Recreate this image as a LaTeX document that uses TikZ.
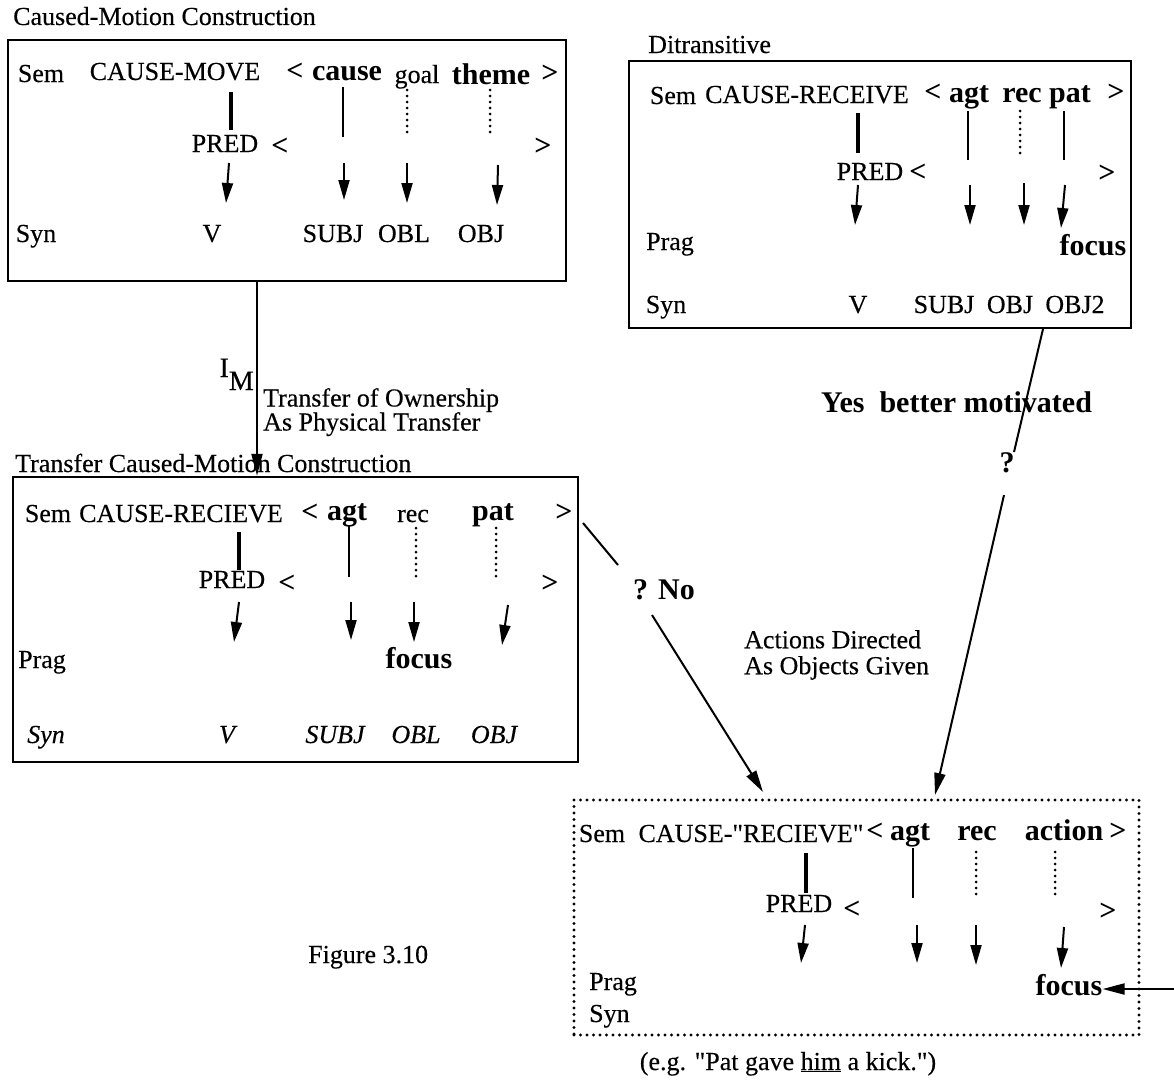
\documentclass[tikz,border=0pt]{standalone}
\usepackage{fontspec}
\setmainfont{Liberation Serif}[UprightFeatures={FakeBold=0.3}, ItalicFeatures={FakeBold=0.3}]
\usetikzlibrary{arrows.meta}
\newcommand\lbfont{\fontsize{26}{28}\selectfont}
\newcommand\rlfont{\fontsize{30}{32}\selectfont\bfseries}

\begin{document}
\begin{tikzpicture}[x=1pt, y=-1pt,
        lbl/.style={font=\lbfont, inner sep=0pt, anchor=base},
        rl/.style={font=\rlfont, inner sep=0pt, anchor=base},
        box/.style={draw, line width=2.5pt, inner sep=0pt},
        dotbox/.style={draw, line width=3.2pt, line cap=round, dash pattern=on 0pt off 6.5pt, inner sep=0pt},
        bar/.style={line width=4pt},
        link/.style={line width=2pt},
        dots/.style={line width=3pt, line cap=round, dash pattern=on 0pt off 6pt},
        arr/.style={line width=2pt, -{Triangle[length=20pt,width=11pt]}},
        conn/.style={line width=2pt, -{Triangle[length=22pt,width=11pt]}}]
        \useasboundingbox (0,0) rectangle (1174,1081);
        % Boxes
        \node[box, minimum width=558pt, minimum height=241pt] (cm) at (287,160.5) {};
        \node[box, minimum width=502pt, minimum height=267pt] (dt) at (880,194.5) {};
        \node[box, minimum width=565pt, minimum height=285pt] (tcm) at (295.5,619.5) {};
        \node[dotbox, minimum width=565pt, minimum height=235pt] (act) at (856.5,917.5) {};
        % Titles
        \node[lbl, anchor=base west] (cmtitle) at (13,25) {Caused-Motion Construction};
        \node[lbl, anchor=base west] (dttitle) at (648,53) {Ditransitive};
        \node[lbl, anchor=base west] (tcmtitle) at (15,472) {Transfer Caused-Motion Construction};

        % Caused-motion box
        \node[lbl] (cmsem) at (41,82) {Sem};
        \node[lbl] (cmpred) at (175,80) {CAUSE-MOVE};
        \node[rl] (cmlt) at (295,80) {<};
        \node[rl] (cmcause) at (347,80) {cause};
        \node[lbl] (cmgoal) at (417,83) {goal};
        \node[rl] (cmtheme) at (491,84) {theme};
        \node[rl] (cmgt) at (550,82) {>};
        \node[lbl] (cmPRED) at (225,152) {PRED};
        \node[rl] (cmlt2) at (280,155) {<};
        \node[rl] (cmgt2) at (543,155) {>};
        \foreach \t/\x [count=\i] in {Syn/36, V/212, SUBJ/333, OBL/404, OBJ/481}
            \node[lbl] (cmsyn\i) at (\x,242) {\t};
        \draw[bar] (231,92) -- (231,130);
        \draw[link] (343,87) -- (343,137);
        \foreach \x in {407,490} \draw[dots] (\x,90) -- (\x,135);
        \foreach \a/\b/\c/\d in {229/163/226/203, 344/163/344/200, 407/163/407/203, 498/165/497/205}
            \draw[arr] (\a,\b) -- (\c,\d);

        % Ditransitive box
        \node[lbl] (dtsem) at (673,104) {Sem};
        \node[lbl] (dtpred) at (807,103) {CAUSE-RECEIVE};
        \node[rl] (dtlt) at (933,101) {<};
        \node[rl] (dtagt) at (969,102) {agt};
        \node[rl] (dtrec) at (1022,102) {rec};
        \node[rl] (dtpat) at (1070,102) {pat};
        \node[rl] (dtgt) at (1116,101) {>};
        \node[lbl] (dtPRED) at (870,180) {PRED};
        \node[rl] (dtlt2) at (918,181) {<};
        \node[rl] (dtgt2) at (1107,182) {>};
        \node[lbl] (dtprag) at (670,250) {Prag};
        \node[rl] (dtfocus) at (1093,255) {focus};
        \foreach \t/\x [count=\i] in {Syn/666, V/858, SUBJ/944, OBJ/1010, OBJ2/1075}
            \node[lbl] (dtsyn\i) at (\x,313) {\t};
        \draw[bar] (858,113) -- (858,153);
        \foreach \x in {968,1064} \draw[link] (\x,111) -- (\x,160);
        \draw[dots] (1020,111) -- (1020,158);
        \foreach \a/\b/\c/\d in {858/185/855/225, 970/185/970/225, 1024/183/1024/225, 1065/185/1061/228}
            \draw[arr] (\a,\b) -- (\c,\d);

        % Transfer caused-motion box
        \node[lbl] (tcmsem) at (48,522) {Sem};
        \node[lbl] (tcmpred) at (181,522) {CAUSE-RECIEVE};
        \node[rl] (tcmlt) at (310,521) {<};
        \node[rl] (tcmagt) at (347,520) {agt};
        \node[lbl] (tcmrec) at (413,522) {rec};
        \node[rl] (tcmpat) at (493,520) {pat};
        \node[rl] (tcmgt) at (564,521) {>};
        \node[lbl] (tcmPRED) at (232,588) {PRED};
        \node[rl] (tcmlt2) at (287,592) {<};
        \node[rl] (tcmgt2) at (550,592) {>};
        \node[lbl] (tcmprag) at (42,668) {Prag};
        \node[rl] (tcmfocus) at (419,668) {focus};
        \foreach \t/\x [count=\i] in {Syn/46, V/227, SUBJ/335, OBL/416, OBJ/494}
            \node[lbl, font=\lbfont\itshape] (tcmsyn\i) at (\x,743) {\t};
        \draw[bar] (239,532) -- (239,570);
        \draw[link] (349,525) -- (349,577);
        \foreach \x in {416,496} \draw[dots] (\x,528) -- (\x,577);
        \foreach \a/\b/\c/\d in {239/602/234/642, 351/602/351/640, 414/602/414/642, 508/605/502/645}
            \draw[arr] (\a,\b) -- (\c,\d);

        % Actions-as-objects box
        \node[lbl] (actsem) at (602,842) {Sem};
        \node[lbl] (actpred) at (751,842) {CAUSE-\textquotedbl RECIEVE\textquotedbl};
        \node[rl] (actlt) at (875,840) {<};
        \node[rl] (actagt) at (910,840) {agt};
        \node[rl] (actrec) at (977,840) {rec};
        \node[rl] (actaction) at (1064,840) {action};
        \node[rl] (actgt) at (1118,840) {>};
        \node[lbl] (actPRED) at (799,912) {PRED};
        \node[rl] (actlt2) at (852,918) {<};
        \node[rl] (actgt2) at (1108,920) {>};
        \node[lbl, anchor=base west] (actprag) at (589,990) {Prag};
        \node[lbl, anchor=base west] (actsyn) at (589,1022) {Syn};
        \node[rl] (actfocus) at (1069,995) {focus};
        \draw[bar] (806,853) -- (806,893);
        \draw[link] (913,848) -- (913,898);
        \foreach \x in {976,1055} \draw[dots] (\x,852) -- (\x,897);
        \foreach \a/\b/\c/\d in {805/925/801/963, 917/925/917/963, 976/925/976/965, 1064/927/1061/968}
            \draw[arr] (\a,\b) -- (\c,\d);
        \node[lbl] (eg) at (788,1070) {(e.g. \textquotedbl Pat gave \underline{him} a kick.\textquotedbl)};

        % Links between constructions
        \coordinate (imx) at (257,0);
        \draw[conn] (cm.south -| imx) -- (tcm.north -| imx);
        \node[lbl, anchor=base east, font=\fontsize{28}{30}\selectfont] (im) at (254,377) {I\raisebox{-13pt}{M}};
        \node[lbl, anchor=north west, align=left, font=\fontsize{26}{24}\selectfont] (owner) at (263,388) {Transfer of Ownership\\As Physical Transfer};

        \coordinate (ytop) at (1043,329);
        \coordinate (ygap1) at (1014,452);
        \coordinate (ygap2) at (1004,495);
        \coordinate (ytip) at (935,795);
        \draw[link] (ytop) -- (ygap1);
        \draw[conn] (ygap2) -- (ytip);
        \node[rl] (yq) at (1007,472) {?};
        \node[rl, anchor=base west] (yes) at (821,412) {Yes\ \ better motivated};

        \coordinate (ntop) at (583,523);
        \coordinate (ngap1) at (618,565);
        \coordinate (ngap2) at (652,615);
        \coordinate (ntip) at (763,792);
        \draw[link] (ntop) -- (ngap1);
        \draw[conn] (ngap2) -- (ntip);
        \node[rl, anchor=base west] (no) at (633,599) {? No};
        \node[lbl, anchor=north west, align=left, font=\fontsize{26}{26}\selectfont] (given) at (744,630) {Actions Directed\\As Objects Given};

        \coordinate (fin) at (1174,989);
        \draw[conn] (fin) -- (fin -| actfocus.east);
        \node[lbl, anchor=base west] (fig) at (308,963) {Figure 3.10};
    \end{tikzpicture}
\end{document}
